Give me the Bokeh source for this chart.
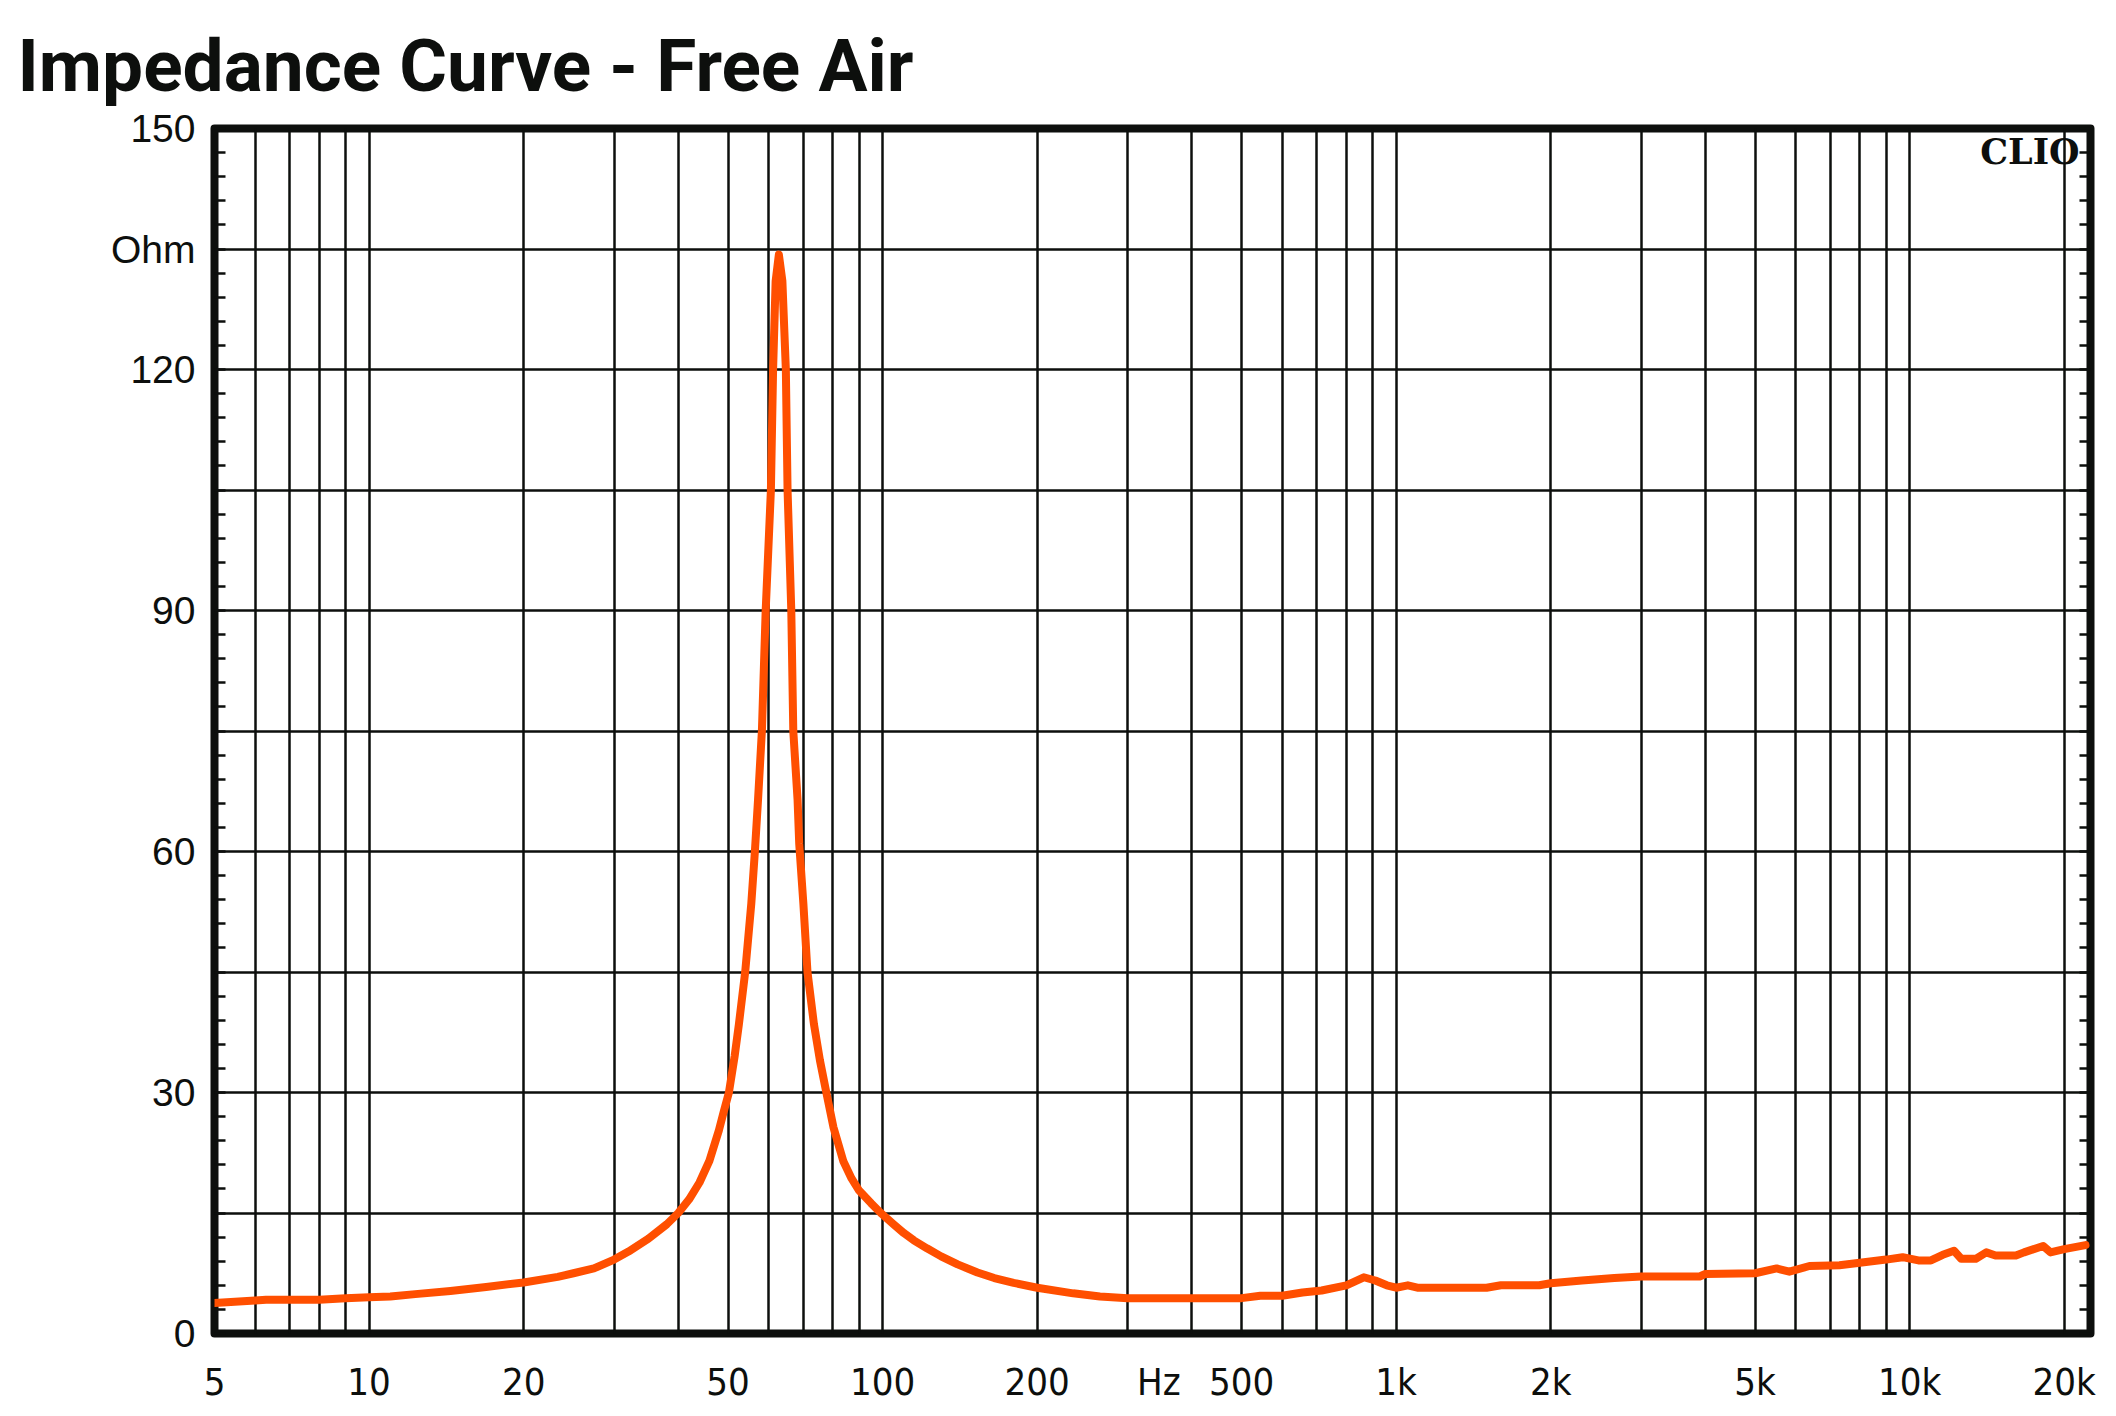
import math
from bokeh.plotting import figure
from bokeh.models import (FixedTicker, LinearAxis, Range1d, Label, Title)
from bokeh.embed import file_html
from bokeh.resources import INLINE

# ---------------- data ----------------
freq_hz = [5, 6, 6.3, 7, 8, 9, 10, 11, 12.3, 14.4, 16.9, 20, 23.3, 25, 27.4,
           30, 32, 35, 38, 40, 42, 44, 46, 48, 49, 50.2, 51.5, 52.5, 54.0,
           55.5, 56.4, 57.2, 58.2, 59.2, 60.6, 61.2, 61.9, 62.8, 63.8, 64.8,
           65.3, 66.4, 67.0, 68.3, 68.8, 70.1, 71.4, 73.5, 75.5, 77.7, 80.2,
           83.9, 87, 90, 95, 99.2, 105, 110, 115, 122, 130, 140, 153, 165,
           180, 200, 235, 265, 300,
           400, 500, 544, 600, 657, 716, 800, 865, 911, 959, 1000, 1054, 1100,
           1500, 1600, 1900, 2000, 2300, 2660, 3000, 3900, 4000, 5000, 5510,
           5830, 6380, 7300, 8000, 9000, 9690, 10400, 11000, 11600, 12200,
           12600, 13450, 14100, 14700, 16100, 16700, 18200, 18800, 20000, 22000]
impedance_ohm = [3.8, 4.1, 4.2, 4.2, 4.2, 4.4, 4.5, 4.6, 4.9, 5.3, 5.8, 6.35,
                 7.05, 7.5, 8.1, 9.2, 10.2, 11.8, 13.6, 15.0, 16.7, 18.8, 21.5,
                 25.3, 27.5, 30, 34.5, 38.5, 45, 53.5, 60, 66.4, 75, 90, 105,
                 120, 131, 134.3, 131, 120, 105, 90, 75, 66.4, 61, 53.5, 45,
                 38.5, 34, 30, 25.7, 21.4, 19.3, 17.8, 16.2, 15.0, 13.6, 12.5,
                 11.6, 10.6, 9.6, 8.6, 7.6, 6.9, 6.3, 5.7,
                 5.0, 4.6, 4.4, 4.4, 4.4, 4.7, 4.7, 5.1, 5.35, 6.0, 7.0, 6.6,
                 6.0, 5.7, 6.0, 5.7, 5.7, 6.0, 6.0, 6.25, 6.6, 6.9, 7.1, 7.1,
                 7.4, 7.5, 8.1, 7.7, 8.4, 8.5, 8.8, 9.2, 9.5, 9.1, 9.1, 9.8,
                 10.3, 9.3, 9.3, 10.1, 9.7, 9.7, 10.1, 10.9, 10.1, 10.5, 11.0]

x_tick_values = [5, 10, 20, 50, 100, 200, 345, 500, 1000, 2000, 5000, 10000, 20000]
x_tick_labels = ["5", "10", "20", "50", "100", "200", "Hz", "500", "1k", "2k", "5k", "10k", "20k"]
y_tick_values = [0, 30, 60, 90, 120, 135, 150]
y_tick_labels = ["0", "30", "60", "90", "120", "Ohm", "150"]

title_text = "Impedance Curve - Free Air"
brand_text = "CLIO"

# ---------------- layout ----------------
W, H = 2116, 1416
L, R, T, B = 214, 2090, 128, 1333
X0, X1 = 5, 22500
Y0, Y1 = 0, 150

def sx(px):  # canvas px -> frame-relative screen x
    return px - L

def sy(py):  # canvas px (from top) -> frame-relative screen y (up)
    return B - py

INK = "#0d0f0d"

p = figure(width=W, height=H, x_axis_type="log", title=None,
           x_range=Range1d(X0, X1), y_range=Range1d(Y0, Y1),
           output_backend="svg", toolbar_location=None,
           min_border_left=L, min_border_right=W - R,
           min_border_top=T, min_border_bottom=H - B,
           background_fill_color="white", border_fill_color="white")

p.outline_line_color = INK
p.outline_line_width = 8
p.outline_line_join = "round"

# grid
grid_x = [m * 10 ** e for e in range(0, 5) for m in range(1, 10)]
grid_x = [g for g in grid_x if X0 <= g <= X1]
p.xgrid.ticker = FixedTicker(ticks=grid_x)
p.ygrid.ticker = FixedTicker(ticks=list(range(0, 151, 15)))
for g in (p.xgrid, p.ygrid):
    g.grid_line_color = INK
    g.grid_line_width = 2.5
    g.grid_line_alpha = 1.0

# x axis
xa = p.xaxis[0]
xa.ticker = FixedTicker(ticks=x_tick_values)
xa.major_label_overrides = {v: s for v, s in zip(x_tick_values, x_tick_labels)}
xa.axis_line_color = None
xa.major_tick_in = 0
xa.major_tick_out = 0
xa.minor_tick_in = 0
xa.minor_tick_out = 0
xa.major_label_standoff = 26
xa.major_label_text_font = "DejaVu Sans Condensed"
xa.major_label_text_font_size = "38px"
xa.major_label_text_color = INK

# y axis (left)
minor_y = [v for v in range(0, 151, 3)]
ya = p.yaxis[0]
ya.ticker = FixedTicker(ticks=y_tick_values, minor_ticks=minor_y)
ya.major_label_overrides = {v: s for v, s in zip(y_tick_values, y_tick_labels)}
ya.axis_line_color = None
ya.major_tick_in = 0
ya.major_tick_out = 0
ya.minor_tick_in = 11
ya.minor_tick_out = 0
ya.minor_tick_line_color = INK
ya.minor_tick_line_width = 2.5
ya.major_label_standoff = 19
ya.major_label_text_font = "Liberation Sans"
ya.major_label_text_font_size = "39px"
ya.major_label_text_color = INK

# right axis with inward ticks only
ra = LinearAxis(ticker=FixedTicker(ticks=[], minor_ticks=minor_y))
ra.axis_line_color = None
ra.major_tick_in = 0
ra.major_tick_out = 0
ra.minor_tick_in = 11
ra.minor_tick_out = 0
ra.minor_tick_line_color = INK
ra.minor_tick_line_width = 2.5
ra.major_label_text_font_size = "0px"
ra.major_label_standoff = 0
p.add_layout(ra, "right")

# curve
p.line(freq_hz, impedance_ohm, line_color="#ff4f00", line_width=8,
       line_join="round", line_cap="round")

# title (side panel, so it is not clipped by the frame)
p.add_layout(Title(text=title_text, align="left", offset=17 - L, standoff=40,
                   text_font="Roboto", text_font_style="bold",
                   text_font_size="73px", text_color=INK), "above")

# CLIO brand
p.add_layout(Label(x=sx(2079), y=sy(151), x_units="screen", y_units="screen",
                   text=brand_text,
                   text_font="DejaVu Serif", text_font_style="bold",
                   text_font_size="35px", text_color=INK,
                   text_align="right", text_baseline="alphabetic"))

open("out.html", "w").write(file_html(p, INLINE))
